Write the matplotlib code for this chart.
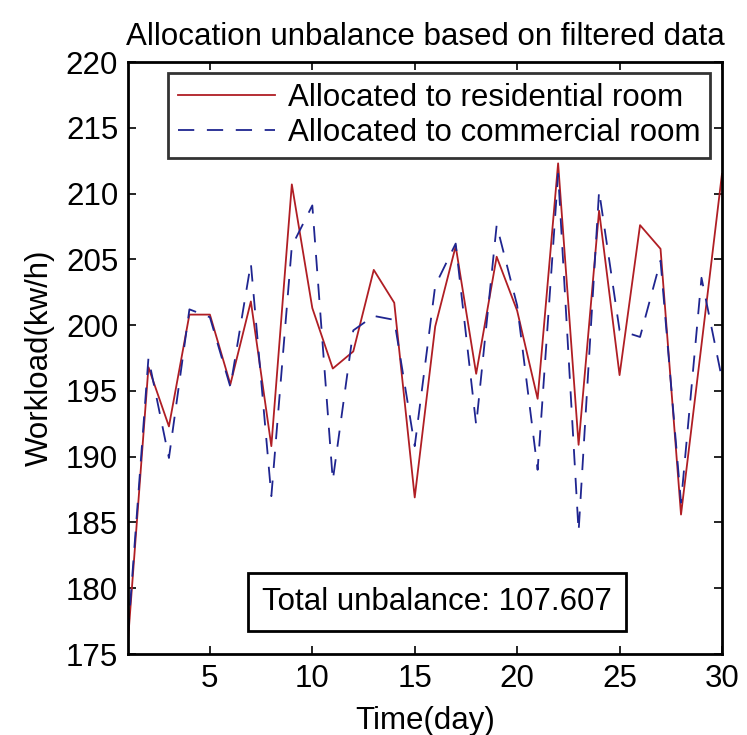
import matplotlib
matplotlib.use("Agg")
import matplotlib.pyplot as plt

days = list(range(1, 31))
residential = [176.0, 196.8, 192.3, 200.8, 200.8, 195.5, 201.8, 190.8, 210.7, 201.3,
               196.7, 198.0, 204.2, 201.7, 186.9, 199.9, 206.0, 196.3, 205.2, 201.1,
               194.4, 212.3, 190.9, 208.7, 196.2, 207.6, 205.8, 185.6, 198.5, 211.5]
commercial = [176.5, 197.5, 189.9, 201.2, 200.6, 195.3, 204.7, 187.0, 206.0, 209.1,
              188.2, 199.6, 200.7, 200.4, 190.8, 203.0, 206.2, 192.4, 207.6, 201.5,
              189.0, 211.5, 184.3, 210.2, 199.6, 199.1, 204.9, 186.5, 203.6, 195.9]
xticks = [5, 10, 15, 20, 25, 30]
yticks = [175, 180, 185, 190, 195, 200, 205, 210, 215, 220]
labels = ["Allocated to residential room", "Allocated to commercial room"]
title = "Allocation unbalance based on filtered data"
note = "Total unbalance: 107.607"

plt.rcParams['font.family'] = ['Liberation Sans', 'DejaVu Sans']
FS = 22.5

fig = plt.figure(figsize=(7.47, 7.35), dpi=100)
ax = fig.add_axes([0.1713, 0.1102, 0.7952, 0.8054])

ax.plot(days, residential, color='#b01e24', lw=1.3, label=labels[0])
ax.plot(days, commercial, color='#1f2590', lw=1.3, dashes=(9, 7), label=labels[1])

ax.set_xlim(1, 30)
ax.set_ylim(175, 220)
ax.set_xticks(xticks)
ax.set_yticks(yticks)
ax.tick_params(direction='in', top=True, right=True, labelsize=FS, length=6, width=1.2, pad=7)
for s in ax.spines.values():
    s.set_linewidth(2)

ax.set_title(title, fontsize=FS, pad=12)
ax.set_xlabel("Time(day)", fontsize=FS, labelpad=9)
ax.set_ylabel("Workload(kw/h)", fontsize=FS, labelpad=8)

leg = ax.legend(loc='upper right', fontsize=FS, frameon=True, fancybox=False,
                edgecolor='black', handlelength=3.1, borderpad=0.32,
                labelspacing=0.18, handletextpad=0.4, borderaxespad=0,
                bbox_to_anchor=(0.98, 0.982))
leg.get_frame().set_linewidth(2)

ax.text(0.52, 0.088, note, transform=ax.transAxes, fontsize=FS, ha='center', va='center',
        bbox=dict(boxstyle='square,pad=0.45', fc='white', ec='black', lw=2))

fig.savefig("out.png", dpi=100)
